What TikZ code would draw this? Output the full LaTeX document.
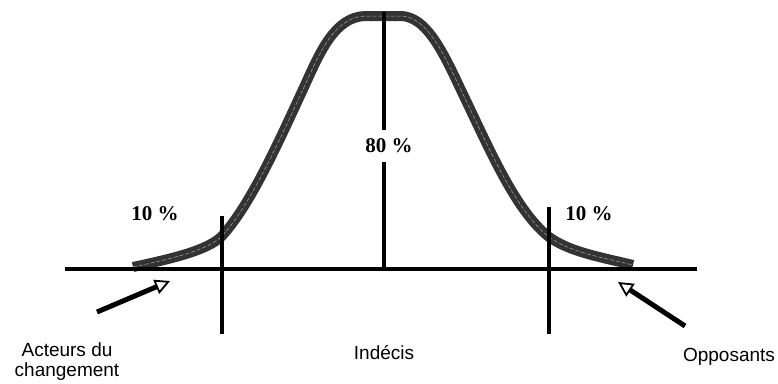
\documentclass[tikz,border=0pt]{standalone}
\usepackage{fontspec}
\setmainfont{Liberation Serif}
\setsansfont{Liberation Sans}
\usetikzlibrary{arrows.meta}
\begin{document}
\begin{tikzpicture}[x=1pt,y=-1pt,
  axisline/.style={line width=4pt,black},
  pct/.style={font=\rmfamily\bfseries\fontsize{21}{24}\selectfont,inner xsep=2pt,inner ysep=9pt},
  lbl/.style={font=\sffamily\fontsize{19}{20}\selectfont,align=center,inner sep=0pt},
  pointer/.style={line width=5pt,-{Triangle[open,length=15pt,width=15pt,line width=1.8pt]}},
  bell/.style={line width=10pt,draw=black!80,line cap=butt,line join=round},
  bellmid/.style={line width=0.5pt,draw=black!35,dashed,dash pattern=on 4pt off 2pt}]
\useasboundingbox (0,0) rectangle (778,383);
% coordinates
\coordinate (axL) at (65,269);
\coordinate (axR) at (697,269);
\coordinate (cT) at (384,12);
\coordinate (cB) at (384,270);
\coordinate (lT) at (222,216);
\coordinate (lB) at (222,334);
\coordinate (rT) at (549,207);
\coordinate (rB) at (549,334);
\node[pct] (p80) at (389,146) {80 \%};
\node[pct] (p10l) at (155,214) {10 \%};
\node[pct] (p10r) at (589,214) {10 \%};
\node[lbl] (acteurs) at (67,362) {Acteurs du\\changement};
\node[lbl] (indecis) at (384,353) {Indécis};
\node[lbl] (opp) at (729,357) {Opposants};
\coordinate (a1s) at (97,312);
\coordinate (a1e) at (170,281);
\coordinate (a2s) at (685,326);
\coordinate (a2e) at (618,282);
% bell curve
\def\bellpath{(133,267) .. controls (175,258) and (208,250) .. (222,236)
  .. controls (250,205) and (275,150) .. (305,85)
  .. controls (320,52) and (335,17) .. (365,16)
  -- (402,16)
  .. controls (425,18) and (440,45) .. (460,88)
  .. controls (490,150) and (515,210) .. (549,237)
  .. controls (570,252) and (600,257) .. (633,265)}
\draw[bell] \bellpath;
\draw[bellmid] \bellpath;
% axes
\draw[axisline] (axL) -- (axR);
\draw[axisline] (cT) -- (cT |- p80.north);
\draw[axisline] (cB |- p80.south) -- (cB);
\draw[axisline] (lT) -- (lB);
\draw[axisline] (rT) -- (rB);
% arrows
\draw[pointer] (a1s) -- (a1e);
\draw[pointer] (a2s) -- (a2e);
\end{tikzpicture}
\end{document}
